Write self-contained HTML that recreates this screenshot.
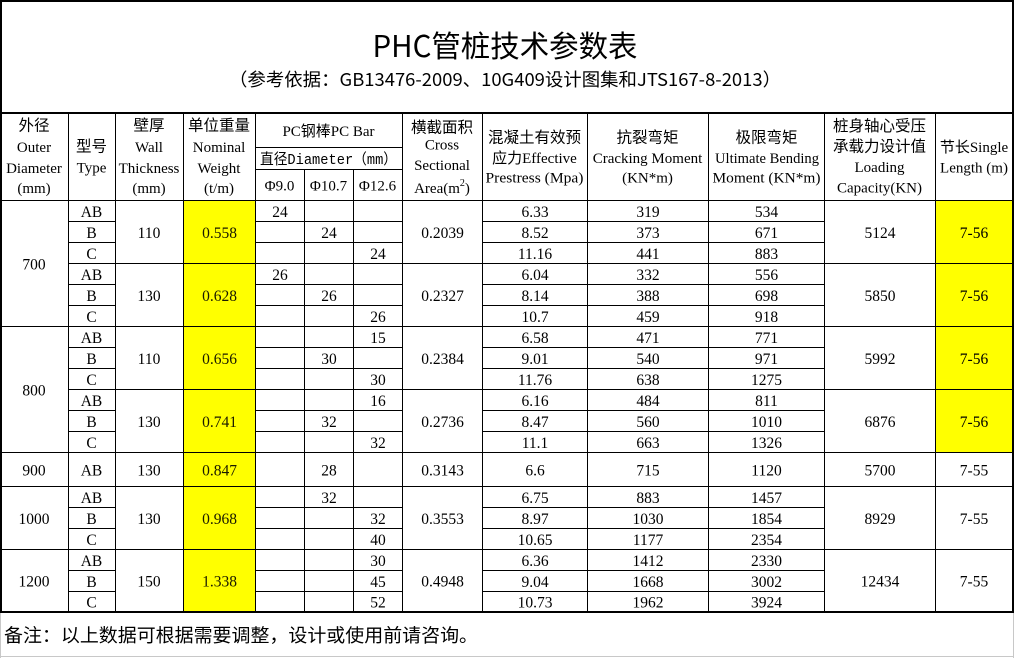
<!DOCTYPE html>
<html>
<head>
<meta charset="utf-8">
<style>
html,body{margin:0;padding:0;background:#fff;}
svg{display:block;}
.cj{font-family:"Noto Sans CJK SC","WenQuanYi Zen Hei",sans-serif;font-size:15.5px;fill:#000;}
.lt{font-family:"Liberation Serif","Noto Sans CJK SC",serif;font-size:15px;fill:#000;}
.d{font-family:"Liberation Serif",serif;font-size:15.5px;fill:#000;}
.y{fill:#1a1a00;}
</style>
</head>
<body>
<svg width="1015" height="658" viewBox="0 0 1015 658" xmlns="http://www.w3.org/2000/svg" shape-rendering="crispEdges">
<rect x="0" y="0" width="1015" height="658" fill="#fff"/>
<!-- yellow fills -->
<rect x="184" y="201" width="71" height="410" fill="#ffff00"/>
<rect x="936" y="201" width="76" height="251" fill="#ffff00"/>

<!-- outer borders -->
<rect x="0" y="0" width="1014" height="2" fill="#000"/>
<rect x="0" y="0" width="2" height="613" fill="#000"/>
<rect x="1012" y="0" width="2" height="613" fill="#000"/>
<rect x="0" y="112" width="1014" height="2" fill="#000"/>
<rect x="0" y="611" width="1014" height="2" fill="#000"/>
<!-- note area gray borders -->
<rect x="0" y="613" width="1" height="45" fill="#c8c8c8"/>
<rect x="1013" y="613" width="1" height="45" fill="#c8c8c8"/>
<rect x="0" y="656" width="1014" height="1" fill="#c8c8c8"/>

<!-- vertical lines -->
<g fill="#000">
<rect x="68" y="113" width="1" height="498"/>
<rect x="115" y="113" width="1" height="498"/>
<rect x="183" y="113" width="1" height="498"/>
<rect x="255" y="113" width="1" height="498"/>
<rect x="304" y="169" width="1" height="442"/>
<rect x="353" y="169" width="1" height="442"/>
<rect x="402" y="113" width="1" height="498"/>
<rect x="482" y="113" width="1" height="498"/>
<rect x="587" y="113" width="1" height="498"/>
<rect x="708" y="113" width="1" height="498"/>
<rect x="824" y="113" width="1" height="498"/>
<rect x="935" y="113" width="1" height="498"/>
<!-- header sub lines -->
<rect x="255" y="147" width="147" height="1"/>
<rect x="255" y="169" width="147" height="1"/>
<!-- full lines -->
<rect x="0" y="200" width="1013" height="1"/>
<rect x="0" y="326" width="1013" height="1"/>
<rect x="0" y="452" width="1013" height="1"/>
<rect x="0" y="486" width="1013" height="1"/>
<rect x="0" y="549" width="1013" height="1"/>
<!-- group lines -->
<rect x="68" y="263" width="945" height="1"/>
<rect x="68" y="389" width="945" height="1"/>
<!-- per-row lines -->
<g>
<rect x="68" y="221" width="47" height="1"/><rect x="255" y="221" width="147" height="1"/><rect x="482" y="221" width="342" height="1"/>
<rect x="68" y="242" width="47" height="1"/><rect x="255" y="242" width="147" height="1"/><rect x="482" y="242" width="342" height="1"/>
<rect x="68" y="284" width="47" height="1"/><rect x="255" y="284" width="147" height="1"/><rect x="482" y="284" width="342" height="1"/>
<rect x="68" y="305" width="47" height="1"/><rect x="255" y="305" width="147" height="1"/><rect x="482" y="305" width="342" height="1"/>
<rect x="68" y="347" width="47" height="1"/><rect x="255" y="347" width="147" height="1"/><rect x="482" y="347" width="342" height="1"/>
<rect x="68" y="368" width="47" height="1"/><rect x="255" y="368" width="147" height="1"/><rect x="482" y="368" width="342" height="1"/>
<rect x="68" y="410" width="47" height="1"/><rect x="255" y="410" width="147" height="1"/><rect x="482" y="410" width="342" height="1"/>
<rect x="68" y="431" width="47" height="1"/><rect x="255" y="431" width="147" height="1"/><rect x="482" y="431" width="342" height="1"/>
<rect x="68" y="507" width="47" height="1"/><rect x="255" y="507" width="147" height="1"/><rect x="482" y="507" width="342" height="1"/>
<rect x="68" y="528" width="47" height="1"/><rect x="255" y="528" width="147" height="1"/><rect x="482" y="528" width="342" height="1"/>
<rect x="68" y="570" width="47" height="1"/><rect x="255" y="570" width="147" height="1"/><rect x="482" y="570" width="342" height="1"/>
<rect x="68" y="591" width="47" height="1"/><rect x="255" y="591" width="147" height="1"/><rect x="482" y="591" width="342" height="1"/>
</g>
</g>

<!-- title -->
<text x="505" y="57" text-anchor="middle" textLength="265" lengthAdjust="spacingAndGlyphs" style="font-family:'Noto Sans CJK SC','WenQuanYi Zen Hei',sans-serif;font-size:30px;fill:#000;">PHC管桩技术参数表</text>
<text x="505" y="86" text-anchor="middle" textLength="552" lengthAdjust="spacingAndGlyphs" style="font-family:'Noto Sans CJK SC','WenQuanYi Zen Hei',sans-serif;font-size:18px;fill:#000;">（参考依据：GB13476-2009、10G409设计图集和JTS167-8-2013）</text>

<!-- header -->
<g text-anchor="middle">
<text class="cj" x="34" y="130.5">外径</text>
<text class="lt" x="34" y="152">Outer</text>
<text class="lt" x="34" y="173">Diameter</text>
<text class="lt" x="34" y="193">(mm)</text>

<text class="cj" x="91.5" y="151.5">型号</text>
<text class="lt" x="91.5" y="172.5">Type</text>

<text class="cj" x="149" y="130.5">壁厚</text>
<text class="lt" x="149" y="152">Wall</text>
<text class="lt" x="149" y="173">Thickness</text>
<text class="lt" x="149" y="193">(mm)</text>

<text class="cj" x="219" y="130.5">单位重量</text>
<text class="lt" x="219" y="152">Nominal</text>
<text class="lt" x="219" y="173">Weight</text>
<text class="lt" x="219" y="193">(t/m)</text>

<text class="lt" x="328.5" y="136">PC钢棒PC Bar</text>
<text x="328.5" y="164" textLength="137" lengthAdjust="spacingAndGlyphs" style="font-family:'Liberation Mono','Noto Sans CJK SC',monospace;font-size:15px;fill:#000;">直径Diameter（mm）</text>
<text class="lt" x="279.5" y="190.5">Φ9.0</text>
<text class="lt" x="328.5" y="190.5">Φ10.7</text>
<text class="lt" x="377.5" y="190.5">Φ12.6</text>

<text class="cj" x="442" y="132.5">横截面积</text>
<text class="lt" x="442" y="149.5">Cross</text>
<text class="lt" x="442" y="170">Sectional</text>
<text class="lt" x="442" y="193">Area(m<tspan font-size="10" dy="-7">2</tspan><tspan dy="7">)</tspan></text>

<text class="cj" x="534.5" y="142.5">混凝土有效预</text>
<text class="lt" x="534.5" y="163">应力Effective</text>
<text class="lt" x="534.5" y="182.5" textLength="98" lengthAdjust="spacingAndGlyphs">Prestress (Mpa)</text>

<text class="cj" x="647.5" y="142.5">抗裂弯矩</text>
<text class="lt" x="647.5" y="163">Cracking Moment</text>
<text class="lt" x="647.5" y="182.5">(KN*m)</text>

<text class="cj" x="766.5" y="142.5">极限弯矩</text>
<text class="lt" x="767" y="163" textLength="104" lengthAdjust="spacingAndGlyphs">Ultimate Bending</text>
<text class="lt" x="766.5" y="182.5" textLength="108" lengthAdjust="spacingAndGlyphs">Moment (KN*m)</text>

<text class="cj" x="879.5" y="131">桩身轴心受压</text>
<text class="cj" x="879.5" y="151.5">承载力设计值</text>
<text class="lt" x="879.5" y="172">Loading</text>
<text class="lt" x="879.5" y="192.5">Capacity(KN)</text>

<text class="lt" x="974" y="152">节长Single</text>
<text class="lt" x="974" y="172.5">Length (m)</text>
</g>

<!-- data -->
<g text-anchor="middle" class="d">
<!-- outer diameter -->
<text x="34" y="269.5">700</text>
<text x="34" y="395.5">800</text>
<text x="34" y="475.5">900</text>
<text x="34" y="524">1000</text>
<text x="34" y="586.5">1200</text>
<!-- type -->
<text x="91.5" y="217">AB</text><text x="91.5" y="238">B</text><text x="91.5" y="259">C</text>
<text x="91.5" y="280">AB</text><text x="91.5" y="301">B</text><text x="91.5" y="322">C</text>
<text x="91.5" y="343">AB</text><text x="91.5" y="364">B</text><text x="91.5" y="385">C</text>
<text x="91.5" y="406">AB</text><text x="91.5" y="427">B</text><text x="91.5" y="448">C</text>
<text x="91.5" y="475.5">AB</text>
<text x="91.5" y="503">AB</text><text x="91.5" y="524">B</text><text x="91.5" y="545">C</text>
<text x="91.5" y="566">AB</text><text x="91.5" y="587">B</text><text x="91.5" y="607.5">C</text>
<!-- wall -->
<text x="149" y="238">110</text>
<text x="149" y="301">130</text>
<text x="149" y="364">110</text>
<text x="149" y="427">130</text>
<text x="149" y="475.5">130</text>
<text x="149" y="524">130</text>
<text x="149" y="586.5">150</text>
<!-- weight -->
<text class="y" x="219.5" y="238">0.558</text>
<text class="y" x="219.5" y="301">0.628</text>
<text class="y" x="219.5" y="364">0.656</text>
<text class="y" x="219.5" y="427">0.741</text>
<text class="y" x="219.5" y="475.5">0.847</text>
<text class="y" x="219.5" y="524">0.968</text>
<text class="y" x="219.5" y="586.5">1.338</text>
<!-- phi -->
<text x="280" y="217">24</text>
<text x="329" y="238">24</text>
<text x="378" y="259">24</text>
<text x="280" y="280">26</text>
<text x="329" y="301">26</text>
<text x="378" y="322">26</text>
<text x="378" y="343">15</text>
<text x="329" y="364">30</text>
<text x="378" y="385">30</text>
<text x="378" y="406">16</text>
<text x="329" y="427">32</text>
<text x="378" y="448">32</text>
<text x="329" y="475.5">28</text>
<text x="329" y="503">32</text>
<text x="378" y="524">32</text>
<text x="378" y="545">40</text>
<text x="378" y="566">30</text>
<text x="378" y="587">45</text>
<text x="378" y="607.5">52</text>
<!-- area -->
<text x="442.5" y="238">0.2039</text>
<text x="442.5" y="301">0.2327</text>
<text x="442.5" y="364">0.2384</text>
<text x="442.5" y="427">0.2736</text>
<text x="442.5" y="475.5">0.3143</text>
<text x="442.5" y="524">0.3553</text>
<text x="442.5" y="586.5">0.4948</text>
<!-- prestress -->
<text x="535" y="217">6.33</text><text x="535" y="238">8.52</text><text x="535" y="259">11.16</text>
<text x="535" y="280">6.04</text><text x="535" y="301">8.14</text><text x="535" y="322">10.7</text>
<text x="535" y="343">6.58</text><text x="535" y="364">9.01</text><text x="535" y="385">11.76</text>
<text x="535" y="406">6.16</text><text x="535" y="427">8.47</text><text x="535" y="448">11.1</text>
<text x="535" y="475.5">6.6</text>
<text x="535" y="503">6.75</text><text x="535" y="524">8.97</text><text x="535" y="545">10.65</text>
<text x="535" y="566">6.36</text><text x="535" y="587">9.04</text><text x="535" y="607.5">10.73</text>
<!-- cracking -->
<text x="648" y="217">319</text><text x="648" y="238">373</text><text x="648" y="259">441</text>
<text x="648" y="280">332</text><text x="648" y="301">388</text><text x="648" y="322">459</text>
<text x="648" y="343">471</text><text x="648" y="364">540</text><text x="648" y="385">638</text>
<text x="648" y="406">484</text><text x="648" y="427">560</text><text x="648" y="448">663</text>
<text x="648" y="475.5">715</text>
<text x="648" y="503">883</text><text x="648" y="524">1030</text><text x="648" y="545">1177</text>
<text x="648" y="566">1412</text><text x="648" y="587">1668</text><text x="648" y="607.5">1962</text>
<!-- ultimate -->
<text x="766.5" y="217">534</text><text x="766.5" y="238">671</text><text x="766.5" y="259">883</text>
<text x="766.5" y="280">556</text><text x="766.5" y="301">698</text><text x="766.5" y="322">918</text>
<text x="766.5" y="343">771</text><text x="766.5" y="364">971</text><text x="766.5" y="385">1275</text>
<text x="766.5" y="406">811</text><text x="766.5" y="427">1010</text><text x="766.5" y="448">1326</text>
<text x="766.5" y="475.5">1120</text>
<text x="766.5" y="503">1457</text><text x="766.5" y="524">1854</text><text x="766.5" y="545">2354</text>
<text x="766.5" y="566">2330</text><text x="766.5" y="587">3002</text><text x="766.5" y="607.5">3924</text>
<!-- loading -->
<text x="880" y="238">5124</text>
<text x="880" y="301">5850</text>
<text x="880" y="364">5992</text>
<text x="880" y="427">6876</text>
<text x="880" y="475.5">5700</text>
<text x="880" y="524">8929</text>
<text x="880" y="586.5">12434</text>
<!-- length -->
<text x="974" y="238">7-56</text>
<text x="974" y="301">7-56</text>
<text x="974" y="364">7-56</text>
<text x="974" y="427">7-56</text>
<text x="974" y="475.5">7-55</text>
<text x="974" y="524">7-55</text>
<text x="974" y="586.5">7-55</text>
</g>

<!-- note -->
<text x="4" y="642" textLength="474" lengthAdjust="spacingAndGlyphs" style="font-family:'Noto Sans CJK SC','WenQuanYi Zen Hei',sans-serif;font-size:18.5px;fill:#000;">备注：以上数据可根据需要调整，设计或使用前请咨询。</text>
</svg>
</body>
</html>
